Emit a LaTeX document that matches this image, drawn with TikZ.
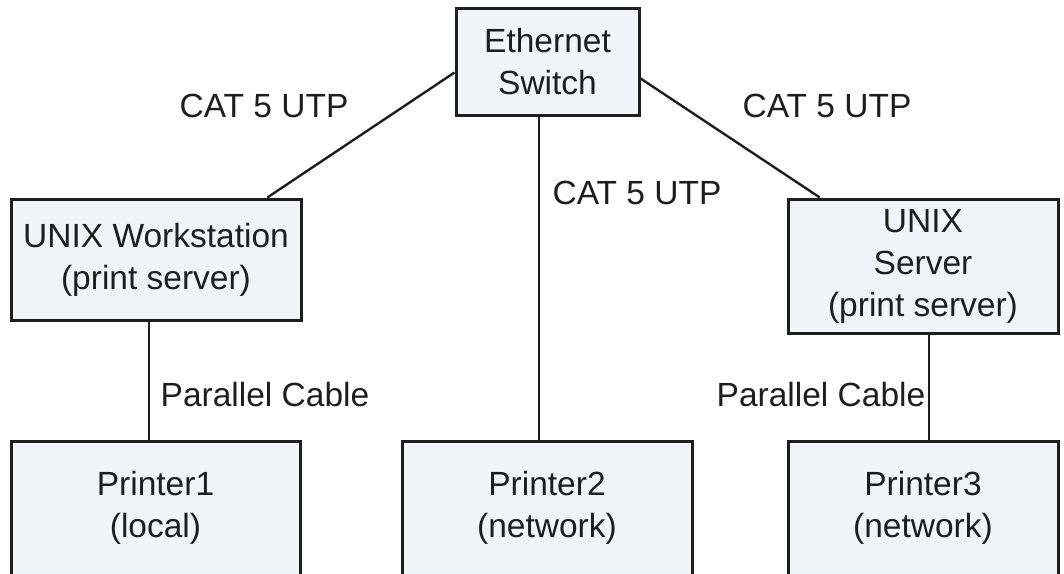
\documentclass[tikz,border=0pt]{standalone}
\usepackage{fontspec}
\setmainfont{Liberation Sans}
\usetikzlibrary{calc}
\definecolor{boxfill}{RGB}{243,243,250}
\definecolor{ink}{RGB}{30,30,30}
\tikzset{
  devbox/.style={draw=ink, line width=1.5pt, fill=boxfill, rectangle,
    align=center, inner sep=0pt, text=ink,
    font=\fontsize{16.75}{21}\selectfont},
  cable/.style={draw=ink, line width=1.2pt},
  cablelabel/.style={anchor=base, inner sep=0pt, text=ink,
    font=\fontsize{16.75}{21}\selectfont}
}
\begin{document}
\begin{tikzpicture}[x=0.5pt, y=-0.5pt]
  \useasboundingbox (0,0) rectangle (1064,573);
  \clip (0,0) rectangle (1064,573);
  \fill[white] (0,0) rectangle (1064,573);

  % devices
  \node[devbox, minimum width=91.5pt, minimum height=53.5pt] (sw) at (547.5,61.5) {Ethernet\\Switch};
  \node[devbox, minimum width=145pt, minimum height=60.5pt] (ws) at (156,259.5) {UNIX Workstation\\(print server)};
  \node[devbox, minimum width=135pt, minimum height=67pt] (sv) at (923,266) {UNIX\\Server\\(print server)};
  \node[devbox, minimum width=144.5pt, minimum height=67pt] (p1) at (155.5,508) {Printer1\\(local)};
  \node[devbox, minimum width=145pt, minimum height=67pt] (p2) at (547,508) {Printer2\\(network)};
  \node[devbox, minimum width=135pt, minimum height=67pt] (p3) at (923,508) {Printer3\\(network)};

  % attachment points on the boxes
  \coordinate (swL) at ($(sw.north west)!0.6!(sw.south west)$);
  \coordinate (swR) at ($(sw.north east)!0.654!(sw.south east)$);
  \coordinate (swB) at ($(sw.south west)!0.454!(sw.south east)$);
  \coordinate (wsT) at ($(ws.north west)!0.88!(ws.north east)$);
  \coordinate (wsB) at ($(ws.south west)!0.476!(ws.south east)$);
  \coordinate (svT) at ($(sv.north west)!0.122!(sv.north east)$);
  \coordinate (svB) at ($(sv.south west)!0.522!(sv.south east)$);

  % cables
  \draw[cable] (swL) -- (wsT);
  \draw[cable] (swR) -- (svT);
  \draw[cable] (swB) -- (swB |- p2.north);
  \draw[cable] (wsB) -- (wsB |- p1.north);
  \draw[cable] (svB) -- (svB |- p3.north);

  % cable labels
  \node[cablelabel] (l1) at (264,117) {CAT 5 UTP};
  \node[cablelabel] (l2) at (637,204) {CAT 5 UTP};
  \node[cablelabel] (l3) at (827,117.5) {CAT 5 UTP};
  \node[cablelabel] (l4) at (265,406) {Parallel Cable};
  \node[cablelabel] (l5) at (821,406) {Parallel Cable};
\end{tikzpicture}
\end{document}
